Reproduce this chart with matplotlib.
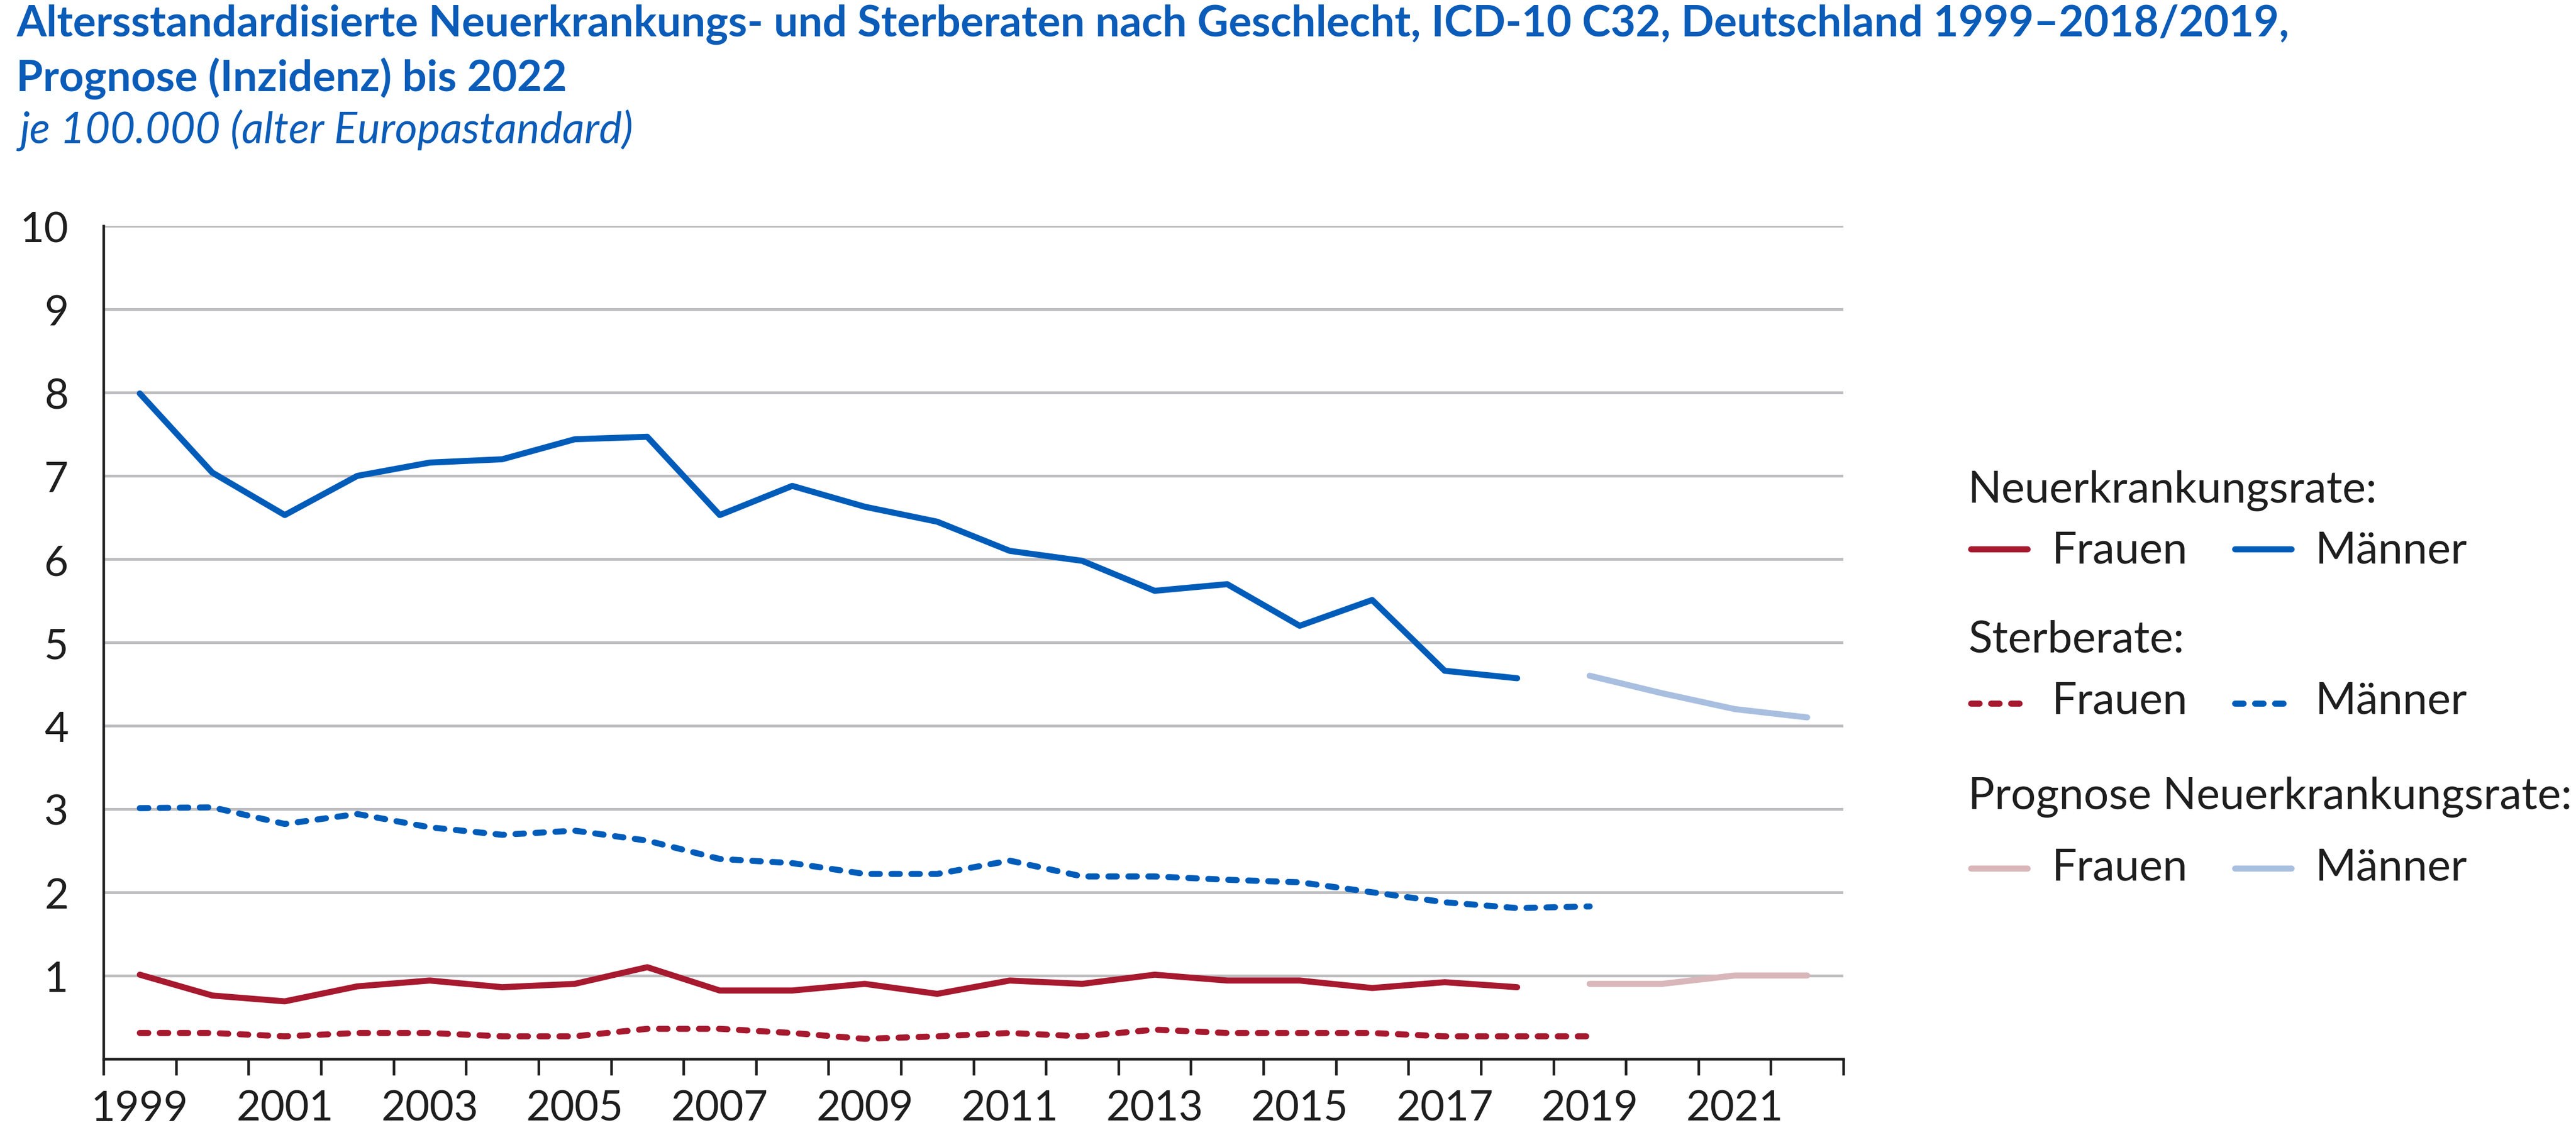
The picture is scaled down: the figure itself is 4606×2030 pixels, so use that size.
import matplotlib.pyplot as plt
from matplotlib.lines import Line2D
import numpy as np

plt.rcParams['font.family'] = ['Lato', 'DejaVu Sans']

# Daten, je 100.000, alter Europastandard
jahre = list(range(1999, 2019))
jahre_sterbe = list(range(1999, 2020))
jahre_prognose = [2019, 2020, 2021, 2022]

maenner_inzidenz = [7.99, 7.04, 6.53, 7.00, 7.16, 7.20, 7.44, 7.47, 6.53, 6.88,
                    6.63, 6.45, 6.10, 5.98, 5.62, 5.70, 5.20, 5.51, 4.66, 4.57]
frauen_inzidenz = [1.01, 0.76, 0.69, 0.87, 0.94, 0.86, 0.90, 1.10, 0.82, 0.82,
                   0.90, 0.78, 0.94, 0.90, 1.01, 0.94, 0.94, 0.85, 0.92, 0.86]
maenner_sterbe = [3.01, 3.02, 2.82, 2.94, 2.78, 2.69, 2.74, 2.62, 2.40, 2.35,
                  2.22, 2.22, 2.38, 2.19, 2.19, 2.15, 2.12, 2.00, 1.88, 1.81, 1.83]
frauen_sterbe = [0.31, 0.31, 0.27, 0.31, 0.31, 0.27, 0.27, 0.36, 0.36, 0.31,
                 0.24, 0.27, 0.31, 0.27, 0.35, 0.31, 0.31, 0.31, 0.27, 0.27, 0.27]
maenner_prognose = [4.60, 4.39, 4.20, 4.10]
frauen_prognose = [0.90, 0.90, 1.00, 1.00]

alle_jahre = list(range(1999, 2023))
beschriftete_jahre = alle_jahre[::2]

blau = "#005CB9"
rot = "#A6192E"
rosa = "#D8B6BA"
hellblau = "#A9BFE0"
titelblau = "#0A5CB8"
textfarbe = "#1E1E1E"

lw = 2.6
dash = (1.4, 1.9)

fig = plt.figure(figsize=(4606 / 300, 2031 / 300))
ax = fig.add_axes([0.0402, 0.0671, 0.7156 - 0.0402, 0.8004 - 0.0671])

ax.plot(jahre, maenner_inzidenz, color=blau, lw=lw, solid_capstyle="round", solid_joinstyle="round", zorder=3)
ax.plot(jahre, frauen_inzidenz, color=rot, lw=lw, solid_capstyle="round", solid_joinstyle="round", zorder=3)
ax.plot(jahre_sterbe, maenner_sterbe, color=blau, lw=lw, dashes=dash, dash_capstyle="round", zorder=3)
ax.plot(jahre_sterbe, frauen_sterbe, color=rot, lw=lw, dashes=dash, dash_capstyle="round", zorder=3)
ax.plot(jahre_prognose, maenner_prognose, color=hellblau, lw=lw, solid_capstyle="round", zorder=3)
ax.plot(jahre_prognose, frauen_prognose, color=rosa, lw=lw, solid_capstyle="round", zorder=3)

ax.set_xlim(alle_jahre[0] - 0.5, alle_jahre[-1] + 0.5)
ax.set_ylim(0, 10)
ax.set_yticks(range(1, 11))
ax.set_yticklabels([str(v) for v in range(1, 11)])
ax.set_xticks(beschriftete_jahre)
ax.set_xticklabels([str(j) for j in beschriftete_jahre])
ax.set_xticks([j - 0.5 for j in alle_jahre] + [alle_jahre[-1] + 0.5], minor=True)

ax.yaxis.grid(True, color="#BDBDC0", lw=1.2)
ax.set_axisbelow(True)
for s in ["top", "right"]:
    ax.spines[s].set_visible(False)
for s in ["left", "bottom"]:
    ax.spines[s].set_color(textfarbe)
    ax.spines[s].set_linewidth(1.1)

ax.tick_params(axis="y", length=0, pad=15, labelsize=18, labelcolor=textfarbe)
ax.tick_params(axis="x", which="major", length=0, pad=13, labelsize=18, labelcolor=textfarbe)
ax.tick_params(axis="x", which="minor", length=7, width=1.1, color=textfarbe)

# Titel
fig.text(0.0064, 0.968, "Altersstandardisierte Neuerkrankungs- und Sterberaten nach Geschlecht, ICD-10 C32, Deutschland 1999\u20132018/2019,",
         fontsize=18.5, fontweight="bold", color=titelblau, va="baseline")
fig.text(0.0064, 0.920, "Prognose (Inzidenz) bis 2022",
         fontsize=18.5, fontweight="bold", color=titelblau, va="baseline")
fig.text(0.0077, 0.874, "je 100.000 (alter Europastandard)",
         fontsize=18.5, style="italic", color=titelblau, va="baseline")

# Legende
def legende_zeile(y_linie, y_text, farben, stil):
    for x0, x1, xt, farbe, name in [(0.7650, 0.7870, 0.7965, farben[0], "Frauen"),
                                    (0.8676, 0.8896, 0.8988, farben[1], "M\u00e4nner")]:
        kw = dict(color=farbe, lw=lw, transform=fig.transFigure)
        if stil == "dash":
            kw.update(dashes=dash, dash_capstyle="round")
        else:
            kw.update(solid_capstyle="round")
        fig.add_artist(Line2D([x0, x1], [y_linie, y_linie], **kw))
        fig.text(xt, y_text, name, fontsize=19, color=textfarbe, va="baseline")

fig.text(0.7640, 0.5574, "Neuerkrankungsrate:", fontsize=19, color=textfarbe, va="baseline")
legende_zeile(0.5160, 0.5039, [rot, blau], "solid")
fig.text(0.7640, 0.4255, "Sterberate:", fontsize=19, color=textfarbe, va="baseline")
legende_zeile(0.3800, 0.3715, [rot, blau], "dash")
fig.text(0.7640, 0.2880, "Prognose Neuerkrankungsrate:", fontsize=19, color=textfarbe, va="baseline")
legende_zeile(0.2350, 0.2248, [rosa, hellblau], "solid")

fig.savefig("out.png", dpi=300)
